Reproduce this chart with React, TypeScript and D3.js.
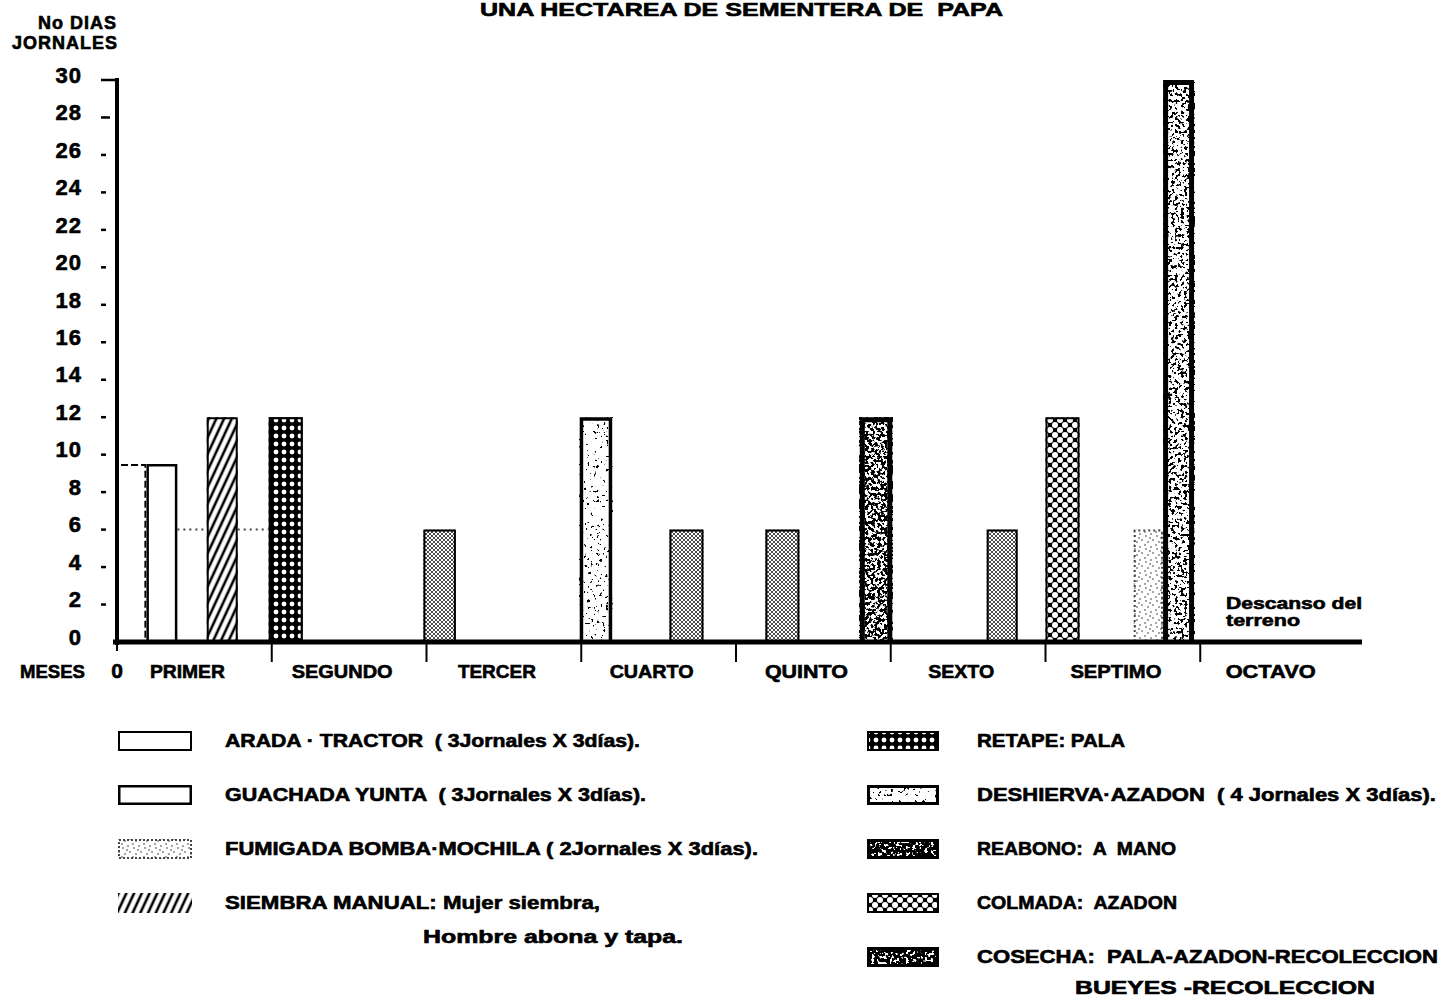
import React, { useRef, useEffect } from 'react';
import * as d3 from 'd3';

const titulo = 'UNA HECTAREA DE SEMENTERA DE  PAPA';
const meses = ['PRIMER', 'SEGUNDO', 'TERCER', 'CUARTO', 'QUINTO', 'SEXTO', 'SEPTIMO', 'OCTAVO'];
const ticksY = [0, 2, 4, 6, 8, 10, 12, 14, 16, 18, 20, 22, 24, 26, 28, 30];

// una barra por labor: mes de inicio / fin (en meses) y dias-jornales
const barTipo = ['ARADA', 'GUACHADA', 'FUMIGADA', 'SIEMBRA', 'FUMIGADA', 'RETAPE', 'FUMIGADA', 'DESHIERVA',
    'FUMIGADA', 'FUMIGADA', 'REABONO', 'FUMIGADA', 'COLMADA', 'FUMIGADA', 'COSECHA'];
const barDesde = [0, 0.19, 0.39, 0.58, 0.78, 0.98, 1.98, 2.99, 3.57, 4.19, 4.80, 5.62, 6.00, 6.57, 6.76];
const barHasta = [0.19, 0.39, 0.58, 0.78, 0.98, 1.20, 2.19, 3.20, 3.79, 4.41, 5.01, 5.82, 6.22, 6.76, 6.96];
const barDias = [9.5, 9.5, 6, 12, 6, 12, 6, 12, 6, 6, 12, 6, 12, 6, 30];

const leyendaTipos = ['ARADA', 'GUACHADA', 'FUMIGADA', 'SIEMBRA', 'RETAPE', 'DESHIERVA', 'REABONO', 'COLMADA', 'COSECHA'];
const leyendaTextos = [
    ['ARADA · TRACTOR  ( 3Jornales X 3días).'],
    ['GUACHADA YUNTA  ( 3Jornales X 3días).'],
    ['FUMIGADA BOMBA·MOCHILA ( 2Jornales X 3días).'],
    ['SIEMBRA MANUAL: Mujer siembra,', 'Hombre abona y tapa.'],
    ['RETAPE: PALA'],
    ['DESHIERVA·AZADON  ( 4 Jornales X 3días).'],
    ['REABONO:  A  MANO'],
    ['COLMADA:  AZADON'],
    ['COSECHA:  PALA-AZADON-RECOLECCION', 'BUEYES -RECOLECCION'],
];
const notaFinal = ['Descanso del', 'terreno'];

// layout of text (widths measured off the print)
const anchosLeyenda = [[415], [421], [533], [375, 260], [148], [459], [199], [200], [461, 300]];
const anchosMeses = [75, 101, 78, 84, 83, 66, 91, 90];

const App = () => {
    const svgRef = useRef(null);

    useEffect(() => {
        const svg = d3.select(svgRef.current);
        svg.selectAll('*').remove();
        const width = 1441;
        const height = 999;
        const x = d3.scaleLinear().domain([0, 8]).range([117, 1355]);
        const y = d3.scaleLinear().domain([0, 30]).range([642, 80]);

        svg.attr('width', width).attr('height', height).attr('viewBox', [0, 0, width, height])
            .style('background', '#fff')
            .style('font-family', '"Liberation Sans", Arial, sans-serif')
            .style('font-weight', 'bold');

        const defs = svg.append('defs');

        const hatch = defs.append('pattern').attr('id', 'p-siembra').attr('patternUnits', 'userSpaceOnUse')
            .attr('width', 7).attr('height', 7).attr('patternTransform', 'rotate(25)');
        hatch.append('rect').attr('width', 7).attr('height', 7).attr('fill', '#fff');
        hatch.append('line').attr('x1', 2).attr('x2', 2).attr('y1', 0).attr('y2', 7)
            .attr('stroke', '#000').attr('stroke-width', 2.6);

        const retape = defs.append('pattern').attr('id', 'p-retape').attr('patternUnits', 'userSpaceOnUse')
            .attr('width', 8).attr('height', 8);
        retape.append('rect').attr('width', 8).attr('height', 8).attr('fill', '#000');
        retape.append('circle').attr('cx', 4).attr('cy', 4).attr('r', 2.4).attr('fill', '#fff');

        const colmada = defs.append('pattern').attr('id', 'p-colmada').attr('patternUnits', 'userSpaceOnUse')
            .attr('width', 10).attr('height', 10);
        colmada.append('rect').attr('width', 10).attr('height', 10).attr('fill', '#000');
        [[0, 0], [10, 0], [0, 10], [10, 10], [5, 5]].forEach(([cx, cy]) =>
            colmada.append('circle').attr('cx', cx).attr('cy', cy).attr('r', 3).attr('fill', '#fff'));

        const malla = defs.append('pattern').attr('id', 'p-malla').attr('patternUnits', 'userSpaceOnUse')
            .attr('width', 4).attr('height', 4);
        malla.append('rect').attr('width', 4).attr('height', 4).attr('fill', '#fff');
        [[0, 0], [4, 0], [0, 4], [4, 4], [2, 2]].forEach(([cx, cy]) =>
            malla.append('circle').attr('cx', cx).attr('cy', cy).attr('r', 0.95).attr('fill', '#000'));

        const punteado = defs.append('pattern').attr('id', 'p-punteado').attr('patternUnits', 'userSpaceOnUse')
            .attr('width', 11).attr('height', 13);
        punteado.append('rect').attr('width', 11).attr('height', 13).attr('fill', '#fff');
        [[2, 3], [7, 1], [9, 7], [4, 9], [1, 12], [6, 5]].forEach(([cx, cy]) =>
            punteado.append('circle').attr('cx', cx).attr('cy', cy).attr('r', 0.8).attr('fill', '#333'));

        const mottle = (id, slope, intercept, seed) => {
            const f = defs.append('filter').attr('id', id).attr('x', 0).attr('y', 0)
                .attr('width', 1).attr('height', 1).attr('color-interpolation-filters', 'sRGB');
            f.append('feTurbulence').attr('type', 'fractalNoise').attr('baseFrequency', 0.32)
                .attr('numOctaves', 2).attr('seed', seed).attr('result', 'n');
            f.append('feColorMatrix').attr('in', 'n').attr('type', 'matrix')
                .attr('values', `0 0 0 0 0  0 0 0 0 0  0 0 0 0 0  ${slope} 0 0 0 ${intercept}`);
        };
        mottle('f-deshierva', 25, -16.5, 4);
        mottle('f-reabono', 22, -10.5, 7);
        mottle('f-cosecha', 24, -13.2, 11);
        mottle('f-oscuro', 22, -8.5, 5);

        const estilo = (tipo, desde) => {
            const enLeyenda = desde < 0;
            switch (tipo) {
                case 'ARADA': return enLeyenda ? { fill: '#fff', sw: 2 } : { fill: '#fff', sw: 2, dash: '7,3' };
                case 'GUACHADA': return { fill: '#fff', sw: 2.5 };
                case 'FUMIGADA':
                    if (enLeyenda || desde >= 6) return { fill: 'url(#p-punteado)', sw: 2, dash: '2,3', color: '#444' };
                    if (desde < 1) return { fill: 'none', sw: 2, dash: '2,4', color: '#444', soloTope: true };
                    return { fill: 'url(#p-malla)', sw: 2 };
                case 'SIEMBRA': return { fill: 'url(#p-siembra)', sw: 2 };
                case 'RETAPE': return { fill: 'url(#p-retape)', sw: 2 };
                case 'DESHIERVA': return { fill: '#fff', filter: 'url(#f-deshierva)', sw: 3.5 };
                case 'REABONO': return { fill: '#fff', filter: enLeyenda ? 'url(#f-oscuro)' : 'url(#f-reabono)', sw: 5 };
                case 'COLMADA': return { fill: 'url(#p-colmada)', sw: 2 };
                case 'COSECHA': return { fill: '#fff', filter: enLeyenda ? 'url(#f-oscuro)' : 'url(#f-cosecha)', sw: 5 };
                default: return { fill: '#fff', sw: 2 };
            }
        };

        const barras = barTipo.map((tipo, i) => ({ tipo, desde: barDesde[i], hasta: barHasta[i], dias: barDias[i] }));

        // bars
        const gBar = svg.append('g');
        barras.forEach(d => {
            const s = estilo(d.tipo, d.desde);
            const x0 = x(d.desde), x1 = x(d.hasta), y0 = y(0), y1 = y(d.dias);
            const g = gBar.append('g');
            if (s.fill !== 'none') {
                g.append('rect').attr('x', x0).attr('y', y1).attr('width', x1 - x0).attr('height', y0 - y1).attr('fill', s.fill);
            }
            if (s.filter) {
                g.append('rect').attr('x', x0).attr('y', y1).attr('width', x1 - x0).attr('height', y0 - y1)
                    .attr('fill', '#000').attr('filter', s.filter);
            }
            const h = s.sw / 2;
            const path = s.soloTope
                ? `M${x0},${y1}H${x1}`
                : `M${x0 + h},${y0}V${y1 + h}H${x1 - h}V${y0}`;
            g.append('path').attr('d', path).attr('fill', 'none')
                .attr('stroke', s.color || '#000').attr('stroke-width', s.sw)
                .attr('stroke-dasharray', s.dash || null);
        });

        // heavier print look for all text
        const tinta = sel => sel.attr('stroke', '#000').attr('stroke-width', 0.6).style('white-space', 'pre');

        // y axis
        svg.append('line').attr('x1', 117).attr('x2', 117).attr('y1', y(30) - 2).attr('y2', y(0) + 3)
            .attr('stroke', '#000').attr('stroke-width', 4);
        svg.append('g').selectAll('line').data(ticksY.filter(t => t > 0)).join('line')
            .attr('x1', 101).attr('x2', t => t === 30 ? 117 : t === 28 ? 110 : 106)
            .attr('y1', t => y(t)).attr('y2', t => y(t))
            .attr('stroke', '#000').attr('stroke-width', 2.5);
        svg.append('g')
            .attr('transform', 'translate(117,0)')
            .call(d3.axisLeft(y).tickValues(ticksY).tickSize(0).tickPadding(35))
            .call(g => g.select('.domain').remove())
            .call(g => g.selectAll('text')
                .attr('dy', '0.1em')
                .attr('font-size', 22)
                .attr('font-family', '"Liberation Sans", Arial, sans-serif')
                .attr('font-weight', 'bold')
                .attr('letter-spacing', 1)
                .attr('fill', '#000')
                .call(tinta));

        svg.append('text').attr('x', 117).attr('y', 29).attr('text-anchor', 'end').attr('font-size', 18)
            .attr('letter-spacing', 1).text('No DIAS').call(tinta);
        svg.append('text').attr('x', 117).attr('y', 49).attr('text-anchor', 'end').attr('font-size', 18)
            .attr('textLength', 105).attr('lengthAdjust', 'spacing').text('JORNALES').call(tinta);

        // x axis
        svg.append('line').attr('x1', 113).attr('x2', 1362).attr('y1', y(0)).attr('y2', y(0))
            .attr('stroke', '#000').attr('stroke-width', 5);
        svg.append('g').selectAll('line').data(d3.range(0, 8)).join('line')
            .attr('x1', i => x(i)).attr('x2', i => x(i))
            .attr('y1', y(0) + 2).attr('y2', i => i === 0 ? y(0) + 9 : y(0) + 20)
            .attr('stroke', '#000').attr('stroke-width', 2);
        svg.append('g').selectAll('text').data(meses).join('text')
            .attr('x', (m, i) => x(i + 0.5) - 7).attr('y', 678).attr('text-anchor', 'middle')
            .attr('font-size', 19).attr('textLength', (m, i) => anchosMeses[i]).attr('lengthAdjust', 'spacingAndGlyphs')
            .text(m => m).call(tinta);
        svg.append('text').attr('x', 20).attr('y', 678).attr('font-size', 18).attr('textLength', 65)
            .attr('lengthAdjust', 'spacingAndGlyphs').text('MESES').call(tinta);
        svg.append('text').attr('x', 117).attr('y', 678).attr('text-anchor', 'middle').attr('font-size', 21).text('0').call(tinta);

        svg.append('g').selectAll('text').data(notaFinal).join('text')
            .attr('x', 1226).attr('y', (t, i) => 609 + i * 17).attr('font-size', 16)
            .attr('textLength', (t, i) => i === 0 ? 136 : 74).attr('lengthAdjust', 'spacingAndGlyphs')
            .text(t => t).call(tinta);

        // title (at the very top of the page)
        svg.append('text').attr('x', 480).attr('y', 16).attr('font-size', 18)
            .attr('textLength', 523).attr('lengthAdjust', 'spacingAndGlyphs').text(titulo).call(tinta);

        // legend
        const gLey = svg.append('g');
        leyendaTipos.forEach((tipo, i) => {
            const izq = i < 4;
            const fila = izq ? i : i - 4;
            const cy = 741 + fila * 54;
            const sx = izq ? 118 : 867;
            const sw = izq ? 74 : 72;
            const tx = izq ? 225 : 977;
            const s = estilo(tipo, -1);
            const g = gLey.append('g');
            g.append('rect').attr('x', sx).attr('y', cy - 10).attr('width', sw).attr('height', 20)
                .attr('fill', s.fill === 'none' ? '#fff' : s.fill);
            if (s.filter) {
                g.append('rect').attr('x', sx).attr('y', cy - 10).attr('width', sw).attr('height', 20)
                    .attr('fill', '#000').attr('filter', s.filter);
            }
            if (tipo !== 'SIEMBRA') {
                const bw = Math.min(s.sw, 3);
                g.append('rect').attr('x', sx + bw / 2).attr('y', cy - 10 + bw / 2)
                    .attr('width', sw - bw).attr('height', 20 - bw)
                    .attr('fill', 'none').attr('stroke', s.color || '#000').attr('stroke-width', bw)
                    .attr('stroke-dasharray', tipo === 'FUMIGADA' ? '2,2' : null);
            }
            leyendaTextos[i].forEach((linea, j) => {
                const lx = j === 0 ? tx : (izq ? 423 : 1075);
                const ly = j === 0 ? cy : (izq ? 937 : 988);
                g.append('text').attr('x', lx).attr('y', ly).attr('dy', '0.36em').attr('font-size', 18)
                    .attr('textLength', anchosLeyenda[i][j]).attr('lengthAdjust', 'spacingAndGlyphs')
                    .text(linea).call(tinta);
            });
        });
    }, []);

    return <svg ref={svgRef} style={{ position: 'absolute', left: 0, top: 0 }}></svg>;
};

export default App;
